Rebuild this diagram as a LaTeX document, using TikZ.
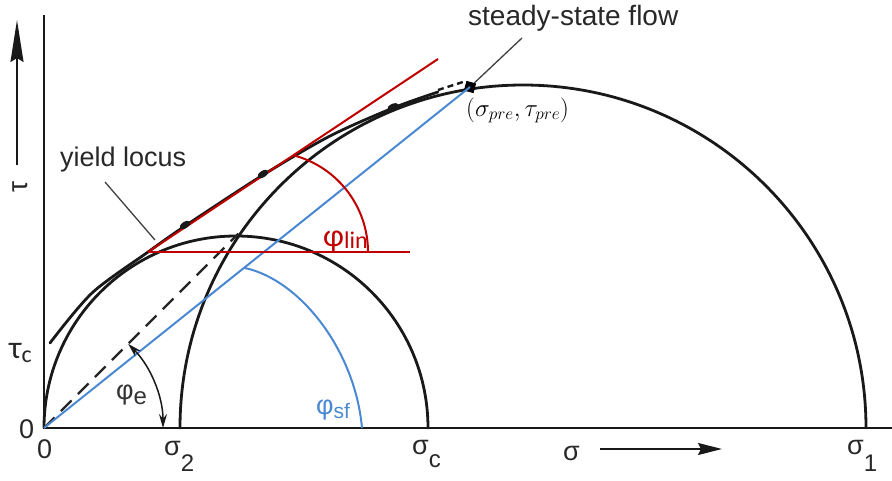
\documentclass[tikz,border=0pt]{standalone}
\usepackage{fontspec}
\setmainfont{Liberation Sans}
\newfontfamily\calib{Carlito}
\usetikzlibrary{arrows.meta,calc}
\definecolor{myred}{RGB}{192,0,0}
\definecolor{myblue}{RGB}{74,136,210}
\definecolor{txt}{RGB}{40,40,40}
\begin{document}
\begin{tikzpicture}[x=1pt,y=-1pt,
  curve/.style={line width=2.8pt,black!90,line cap=round},
  axisline/.style={line width=2.4pt,black!90},
  redl/.style={myred,line width=2pt},
  bluel/.style={myblue,line width=2pt},
  leader/.style={line width=1.3pt,black!75},
  lbl/.style={anchor=base west,inner sep=0pt,text=txt,font=\fontsize{27}{27}\selectfont},
  blob/.style={fill=black!90}]
\useasboundingbox (0,0) rectangle (892,480);
% key points
\coordinate (O) at (44,428);
\coordinate (T) at (148,252);
\coordinate (Ytop) at (44,15);
\coordinate (Xend) at (892,428);
% axes
\draw[axisline] (Ytop) -- (O) -- (Xend);
% tau arrow
\coordinate (ta1) at (17,165);
\coordinate (ta2) at (17,20);
\draw[line width=2pt,black!90,-{Stealth[length=42pt,width=13pt,inset=4pt]}] (ta1) -- (ta2);
\node[inner sep=0pt,rotate=90,text=txt,font=\fontsize{28}{28}\selectfont] (tau) at (20,187) {τ};
% sigma arrow
\coordinate (sa1) at (600,449);
\coordinate (sa2) at (722,449);
\draw[line width=2pt,black!90,-{Stealth[length=24pt,width=12pt,inset=3pt]}] (sa1) -- (sa2);
\node[lbl] (sig) at (563,460) {σ};
% Mohr circles
\draw[curve] (O) arc[start angle=180,end angle=360,radius=192];
\draw[curve] (180,428) arc[start angle=180,end angle=360,radius=343];
% dashed effective yield locus
\coordinate (D) at ($(O)+(-45:275)$);
\draw[line width=2.2pt,black!85,dash pattern=on 15pt off 9pt] (O) -- (D);
% yield locus
\draw[curve] plot[smooth,tension=0.5] coordinates {(50,343) (92,293) (148,252) (185,226) (263,175) (330,136) (393,108) (438,92)};
\coordinate (yd1) at (438,90);
\coordinate (yd2) at (466,81);
\draw[line width=2.4pt,black!90,dash pattern=on 6pt off 4pt] (yd1) -- (yd2);
% pre-shear point
\node[fill=black,minimum size=10pt,inner sep=0pt,rotate=-15] (pre) at (470,87) {};
% blue line and angle
\draw[bluel] (O) -- (pre.center);
\coordinate (b1) at (245,268);
\coordinate (b2) at (362,428);
\draw[bluel] (b1) .. controls (300,280) and (355,350) .. (b2);
% red tangent, horizontal, angle
\coordinate (R1) at (438,59);
\coordinate (R2) at (410,252);
\draw[redl] (T) -- (R1);
\draw[redl] (T) -- (R2);
\coordinate (ra) at (368,252);
\draw[redl] (ra) arc[start angle=0,end angle=-75.5,radius=100];
% measuring points on the yield locus
\fill[blob,rotate around={33:(185,225)}] (185,225) ellipse[x radius=6,y radius=3.2];
\fill[blob,rotate around={32:(263,174)}] (263,174) ellipse[x radius=6,y radius=3.2];
\fill[blob,rotate around={25:(393,107)}] (393,107) ellipse[x radius=6,y radius=3.2];
% phi_e arrow
\coordinate (e1) at ($(O)+(-45:119)$);
\draw[line width=1.5pt,black!90,{Stealth[length=14pt,width=8pt]}-{Stealth[length=14pt,width=8pt]}] (e1) arc[start angle=-45,end angle=0,radius=119];
% leaders
\node[lbl] (yl) at (60,166) {yield locus};
\coordinate (yl1) at (105,182);
\coordinate (yl2) at (155,240);
\draw[leader] (yl1) -- (yl2);
\node[lbl,font=\fontsize{28}{28}\selectfont] (ssf) at (468,25) {steady-state flow};
\coordinate (ss1) at (522,38);
\draw[leader] (ss1) -- (pre);
% labels
\node[anchor=base west,inner sep=0pt,font=\fontsize{24}{24}\selectfont] (prelbl) at (466,116) {$(\sigma_{pre},\tau_{pre})$};
\node[lbl] (z1) at (19,438) {0};
\node[lbl] (z2) at (37,458) {0};
\node[lbl,font=\calib\fontsize{32}{32}\selectfont] (tc) at (9,358) {τ\raisebox{-4pt}{\fontsize{24}{24}\selectfont c}};
\node[lbl] (s2) at (164,455) {σ\raisebox{-16pt}{\fontsize{24}{24}\selectfont 2}};
\node[lbl] (sc) at (412,454) {σ\raisebox{-13pt}{\fontsize{24}{24}\selectfont c}};
\node[lbl] (s1) at (847,454) {σ\raisebox{-17pt}{\fontsize{24}{24}\selectfont 1}};
\node[lbl,text=myred,font=\calib\fontsize{32}{32}\selectfont] (plin) at (323,246) {φ\raisebox{-2pt}{\fontsize{24}{24}\selectfont lin}};
\node[lbl,text=black!80] (pe) at (116,399) {φ\raisebox{-5pt}{\fontsize{24}{24}\selectfont e}};
\node[lbl,text=myblue] (psf) at (316,414) {φ\raisebox{-4pt}{\fontsize{21}{21}\selectfont sf}};
\end{tikzpicture}
\end{document}
